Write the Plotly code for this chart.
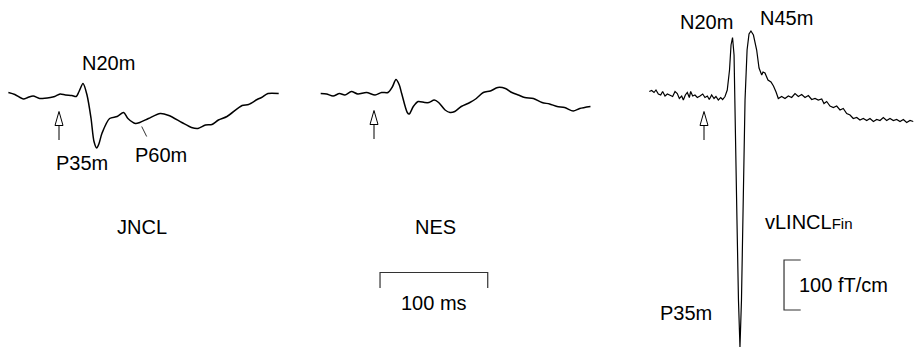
import plotly.graph_objects as go

# ---------------- data (time in ms, amplitude in fT/cm) ----------------
jncl_t = [-47, -41, -33, -29, -24, -18, -8, -4, 1, 6, 12, 16, 18.6, 22.3, 26, 29.7, 32.5, 35, 37,
          40, 47, 54, 60, 64, 71, 75, 83, 94, 102, 114, 123, 129, 136, 142, 148, 156, 170, 176,
          184, 188, 194, 204]
jncl_v = [5, 1, -8, -5, -2, -7, -5, -3, 2, 0, -1, -3, 7, 23, 0, -46, -93, -106, -98,
          -76, -47, -43, -35, -47, -57, -55, -47, -37, -41, -55, -65, -67, -60, -59, -50, -43, -21, -19,
          -9, -5, 3, 3]

nes_t = [-49.5, -44, -38, -32, -27, -21, -15, -7, 1, 7, 13, 17, 20.4, 23.5, 25.7, 30.9, 32.7, 36.5,
         41, 47, 51, 56, 60, 66, 70.6, 75, 81, 89, 95, 101.5, 108, 115, 122, 128, 134, 140, 148,
         156, 163, 170, 177, 185, 191, 201]
nes_v = [1, 0, -4, 1, -2, 5, 0, 3, -2, 3, 3, 14, 29, 18, 1, -37, -40, -25,
         -15, -17, -17, -12, -17, -32, -37, -35, -25, -17, -9, 3, 6, 13, 11, 3, -2, -7, -9,
         -17, -20, -25, -27, -34, -29, -25]

vl_t = [-50.8, -48.6, -46.4, -44.6, -42.4, -40.2, -38.4, -36.2, -34.0, -31.6, -29.1, -26.9, -24.8,
        -22.9, -20.7, -19.2, -17.3, -15.5, -13.6, -12.4, -10.5, -8.4, -6.2, -3.7, -1.2, 0.9, 3.1,
        4.9, 7.1, 9.3, 11.1, 13.3, 15.5, 17.3, 19.5,
        21.6, 23.7, 25.1, 26.5, 27.9, 29.2, 30.6, 32.0, 33.4, 34.8, 36.2, 38.1, 40.0, 41.8, 43.6,
        45.9, 48.9, 51.1, 53.6, 54.8, 56.6, 59.4, 62.2, 64.5, 66.9,
        69.0, 72.1, 75.2, 78.3, 81.4, 84.5, 87.6, 90.7, 93.8, 96.9, 100.0, 103.1, 106.1, 109.3,
        111.4, 113.9, 117.0, 120.1, 123.2, 126.3, 129.3, 132.5, 135.6, 138.6, 141.8, 144.8, 147.9,
        151.1, 154.1, 157.3, 160.4, 163.4, 166.5, 169.6, 172.7, 175.8, 178.9, 182.0, 185.1, 188.2,
        191.3, 194.3]
vl_v = [7, 9, 5, 10, 2, 0, 7, -2, 2, 0, -3, 7, 3,
        -7, -2, -10, 0, 5, -5, 7, -2, 0, -5, -2, 2, -5, -2,
        -9, 0, -7, -3, -10, -5, -9, -3,
        10, 50, 100, 115, 80, -50, -250, -410, -504, -410, -210, -10, 90, 122, 128,
        120, 90, 54, 40, 46, 44, 30, 26, 18, 6,
        -7, -3, -7, -2, -5, 3, -3, 1, -5, -1, -9, -7, -10, -8,
        -17, -13, -22, -25, -22, -30, -27, -37, -40, -47, -45, -50, -47,
        -51, -47, -53, -49, -51, -45, -51, -47, -51, -49, -53, -49, -55,
        -51, -53]

panel_names = ["JNCL", "NES", "vLINCL<span style='font-size:15px'>Fin</span>"]

# ---------------- geometry ----------------
W, H = 915, 349
PX_PER_MS = 1.077
PX_PER_FT = 0.5
FONT = "Liberation Sans, Arial, Helvetica, sans-serif"
FS = 20

panels = [
    dict(t=jncl_t, v=jncl_v, stim_px=59, base_px=95, shape="spline", width=1.5),
    dict(t=nes_t, v=nes_v, stim_px=374, base_px=94, shape="spline", width=1.5),
    dict(t=vl_t, v=vl_v, stim_px=704, base_px=95, shape="linear", width=1.2),
]

fig = go.Figure()
layout_axes = {}
shapes = []
for i, p in enumerate(panels):
    sfx = "" if i == 0 else str(i + 1)
    line = dict(color="black", width=p["width"], shape=p["shape"])
    if p["shape"] == "spline":
        line["smoothing"] = 0.8
    fig.add_trace(go.Scatter(x=p["t"], y=p["v"], mode="lines", line=line,
                             xaxis="x" + sfx, yaxis="y" + sfx,
                             hoverinfo="skip", showlegend=False))
    xr = [-p["stim_px"] / PX_PER_MS, (W - p["stim_px"]) / PX_PER_MS]
    yr = [(p["base_px"] - H) / PX_PER_FT, p["base_px"] / PX_PER_FT]
    xa = dict(domain=[0, 1], range=xr, visible=False, fixedrange=True)
    ya = dict(domain=[0, 1], range=yr, visible=False, fixedrange=True)
    if i > 0:
        xa["overlaying"] = "x"
        ya["overlaying"] = "y"
    xa["anchor"] = "y" + sfx
    ya["anchor"] = "x" + sfx
    layout_axes["xaxis" + sfx] = xa
    layout_axes["yaxis" + sfx] = ya

    # stimulus arrow (hollow head) at t = 0
    hw = 4 / PX_PER_MS
    tip, base, tail = -33, -61, -90
    xref, yref = "x" + sfx, "y" + sfx
    shapes.append(dict(type="line", xref=xref, yref=yref, x0=0, x1=0, y0=tail, y1=base,
                       line=dict(color="black", width=1)))
    shapes.append(dict(type="path", xref=xref, yref=yref,
                       path=f"M {-hw},{base} L 0,{tip} L {hw},{base} Z",
                       fillcolor="white", line=dict(color="black", width=1)))

# P60m pointer line (panel 1)
shapes.append(dict(type="line", xref="x", yref="y", x0=76.8, y0=-63, x1=81.4, y1=-83,
                   line=dict(color="#333", width=1)))

# 100 ms scale bar (panel 2)
bar_t0, bar_len = 5.6, 100
bar_y, tick_h = -357, 31
shapes.append(dict(type="path", xref="x2", yref="y2",
                   path=f"M {bar_t0},{bar_y - tick_h} L {bar_t0},{bar_y} L {bar_t0 + bar_len},{bar_y} "
                        f"L {bar_t0 + bar_len},{bar_y - tick_h}",
                   line=dict(color="#333", width=1.2)))

# 100 fT/cm scale bar (panel 3)
vb_t, vb_tick = 74.3, 15.5
vb_top, vb_len = -330, 100
shapes.append(dict(type="path", xref="x3", yref="y3",
                   path=f"M {vb_t + vb_tick},{vb_top} L {vb_t},{vb_top} L {vb_t},{vb_top - vb_len} "
                        f"L {vb_t + vb_tick},{vb_top - vb_len}",
                   line=dict(color="#333", width=1.2)))


def px(x, y):
    return x / W, 1 - y / H


labels = [
    ("N20m", 108, 63, "center"),
    ("P35m", 82, 163, "center"),
    ("P60m", 161, 155, "center"),
    (panel_names[0], 142, 227, "center"),
    (panel_names[1], 435, 227, "center"),
    (panel_names[2], 763, 222, "left"),
    ("N20m", 706, 22, "center"),
    ("N45m", 786, 18, "center"),
    ("P35m", 686, 313, "center"),
    ("100 ms", 434, 303, "center"),
    ("100 fT/cm", 797, 285, "left"),
]
annotations = []
for text, x, y, anchor in labels:
    xp, yp = px(x, y)
    annotations.append(dict(text=text, x=xp, y=yp, xref="paper", yref="paper",
                            xanchor=anchor, yanchor="middle", showarrow=False,
                            font=dict(family=FONT, size=FS, color="black")))

fig.update_layout(width=W, height=H, margin=dict(l=0, r=0, t=0, b=0, pad=0),
                  paper_bgcolor="white", plot_bgcolor="white",
                  shapes=shapes, annotations=annotations, showlegend=False,
                  **layout_axes)

fig.write_html("out.html", config={"displayModeBar": False, "staticPlot": True},
               post_script="document.body.style.margin='0';document.body.style.overflow='hidden';")
